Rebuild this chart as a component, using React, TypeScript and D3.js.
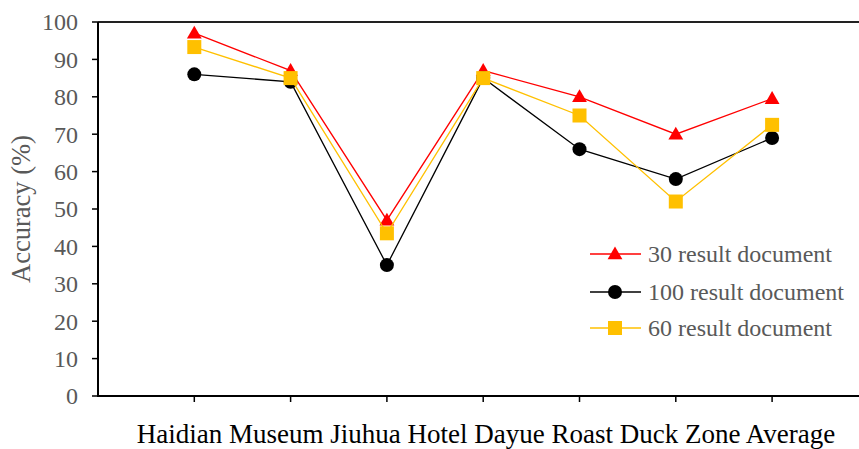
import React from "react";
import * as d3 from "d3";

// Accuracy by scenic spot for different result-document counts
const categories = ["Haidian", "Museum", "Jiuhua", "Hotel", "Dayue", "Zone", "Average"];
const series30 = [97, 87, 47, 87, 80, 70, 79.5];
const series100 = [86, 84, 35, 85, 66, 58, 69];
const series60 = [93.3, 85, 43.5, 85, 75, 52, 72.5];
const yTicks = [0, 10, 20, 30, 40, 50, 60, 70, 80, 90, 100];
const xTitle = "Haidian Museum Jiuhua Hotel Dayue Roast Duck Zone  Average";
const yTitle = "Accuracy (%)";

const W = 859;
const H = 449;
const left = 98;
const top = 22;
const bottom = 396;
const slot = 96.3;

const serif = "'Liberation Serif', 'Times New Roman', serif";

type Series = { name: string; values: number[]; color: string; marker: "triangle" | "circle" | "square" };

const seriesList: Series[] = [
  { name: "30 result document", values: series30, color: "#ff0000", marker: "triangle" },
  { name: "100 result document", values: series100, color: "#000000", marker: "circle" },
  { name: "60 result document", values: series60, color: "#ffc000", marker: "square" },
];

function Marker({ kind, x, y, color }: { kind: Series["marker"]; x: number; y: number; color: string }) {
  if (kind === "circle") return <circle cx={x} cy={y} r={7} fill={color} />;
  if (kind === "square") return <rect x={x - 7} y={y - 7} width={14} height={14} fill={color} />;
  const sym = d3.symbol().type(d3.symbolTriangle).size(95)();
  return <path d={sym || ""} transform={`translate(${x},${y + 1})`} fill={color} />;
}

export default function App() {
  const x = d3.scaleLinear().domain([0, 8]).range([left, left + 8 * slot]);
  const y = d3.scaleLinear().domain([0, 100]).range([bottom, top]);
  const line = d3
    .line<number>()
    .x((_, i) => x(i + 1))
    .y((v) => y(v));

  const legendY = [254, 292, 328];

  return (
    <svg
      width={W}
      height={H}
      style={{ position: "absolute", left: 0, top: 0, background: "#fff" }}
      fontFamily={serif}
    >
      {/* plot frame */}
      <line x1={left} x2={W} y1={top} y2={top} stroke="#222" strokeWidth={1.8} />
      <line x1={left} x2={left} y1={top} y2={bottom} stroke="#000" strokeWidth={2} />
      <line x1={left - 1} x2={W} y1={bottom} y2={bottom} stroke="#000" strokeWidth={2} />

      {/* y axis ticks and labels */}
      {yTicks.map((t) => (
        <g key={t}>
          <line x1={left - 6} x2={left} y1={y(t)} y2={y(t)} stroke="#000" strokeWidth={1.5} />
          <text
            x={78}
            y={y(t)}
            dy="0.35em"
            textAnchor="end"
            fontSize={24}
            fill="#595959"
          >
            {t}
          </text>
        </g>
      ))}

      {/* x axis ticks */}
      {categories.map((c, i) => (
        <line key={c} x1={x(i + 1)} x2={x(i + 1)} y1={bottom} y2={bottom + 6} stroke="#000" strokeWidth={1.5} />
      ))}

      <text
        transform={`translate(30,209) rotate(-90)`}
        textAnchor="middle"
        fontSize={26.5}
        fill="#595959"
      >
        {yTitle}
      </text>

      <text x={486} y={443} textAnchor="middle" fontSize={27} fill="#000">
        {xTitle}
      </text>

      {/* series */}
      {seriesList.map((s) => (
        <g key={s.name}>
          <path d={line(s.values) || ""} fill="none" stroke={s.color} strokeWidth={1.3} />
          {s.values.map((v, i) => (
            <Marker key={i} kind={s.marker} x={x(i + 1)} y={y(v)} color={s.color} />
          ))}
        </g>
      ))}

      {/* legend */}
      {seriesList.map((s, i) => (
        <g key={s.name}>
          <line x1={590} x2={641} y1={legendY[i]} y2={legendY[i]} stroke={s.color} strokeWidth={1.3} />
          <Marker kind={s.marker} x={615} y={legendY[i]} color={s.color} />
          <text x={648} y={legendY[i]} dy="0.35em" fontSize={24} fill="#595959">
            {s.name}
          </text>
        </g>
      ))}
    </svg>
  );
}
